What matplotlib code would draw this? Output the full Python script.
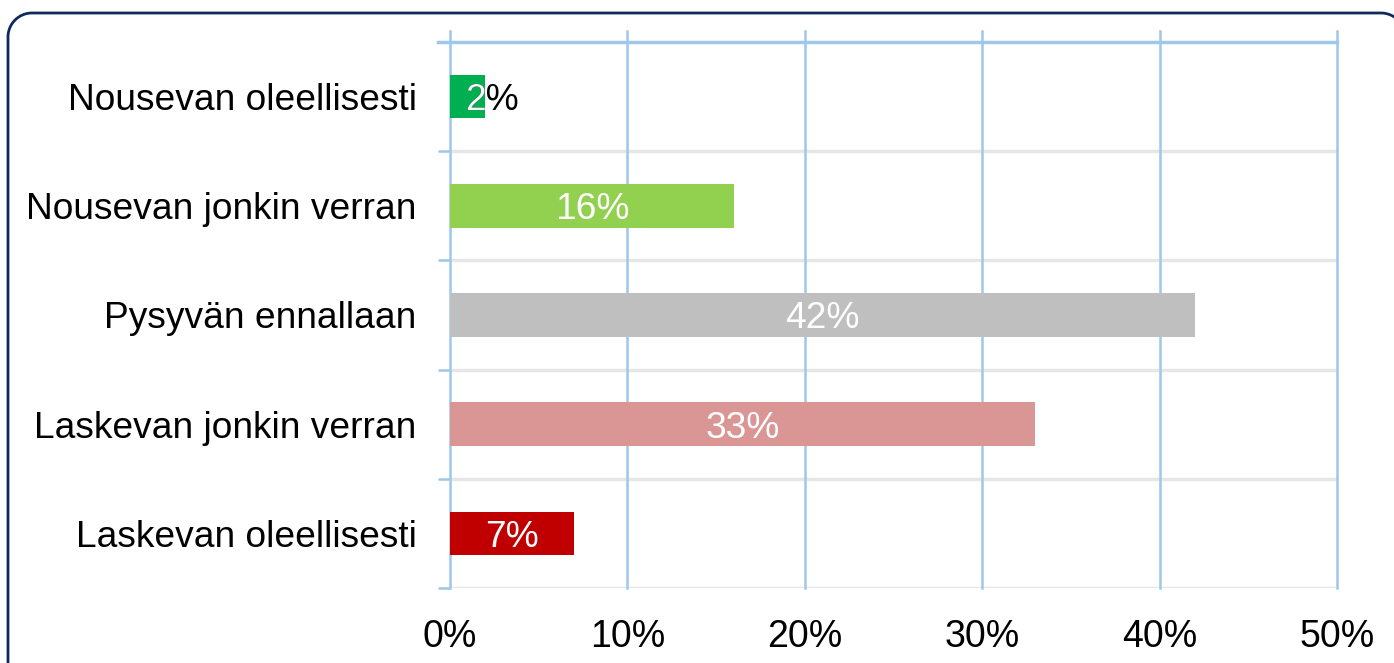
import numpy as np
import matplotlib.pyplot as plt
from matplotlib.lines import Line2D
from matplotlib.transforms import IdentityTransform

plt.rcParams['font.family'] = ['Liberation Sans', 'DejaVu Sans']

# data
categories = ['Nousevan oleellisesti', 'Nousevan jonkin verran', 'Pysyvän ennallaan',
              'Laskevan jonkin verran', 'Laskevan oleellisesti']
values = [2, 16, 42, 33, 7]
colors = ['#00B050', '#92D050', '#BFBFBF', '#D99694', '#C00000']
xticks = [0, 10, 20, 30, 40, 50]

blue = '#9DC8EB'
gray = '#E6E6E6'

fig = plt.figure(figsize=(13.94, 6.63), dpi=100)
ax = fig.add_axes([0.3228, 0.1131, 0.9591 - 0.3228, 0.9367 - 0.1131])

# rounded frame round the whole chart, drawn in pixel coords
r = 24
left, right, top = 8, 1405, 650
a1 = np.linspace(np.pi, np.pi / 2, 24)
a2 = np.linspace(np.pi / 2, 0, 24)
fx = np.concatenate([[left], left + r + r * np.cos(a1), right - r + r * np.cos(a2), [right]])
fy = np.concatenate([[-10], top - r + r * np.sin(a1), top - r + r * np.sin(a2), [-10]])
fig.lines.append(Line2D(fx, fy, transform=IdentityTransform(), color='#0E2A5E', lw=2))

n = len(categories)
ypos = list(range(n - 1, -1, -1))
ax.set_xlim(0, 50)
ax.set_ylim(-0.5, n - 0.5)

# grid
for b in range(n):
    ax.axhline(b - 0.5, color=gray, lw=2.5, zorder=1)
ax.axhline(n - 0.5, color=blue, lw=2.5, zorder=1, xmin=-12 / 887, clip_on=False)
for x in xticks:
    ax.plot([x, x], [-0.5, n - 0.4], color=blue, lw=1.8, zorder=1.5, clip_on=False)

bars = ax.barh(ypos, values, height=0.4, color=colors, zorder=2)

fs = 26.7
for bar, v, y in zip(bars, values, ypos):
    lab = f'{v}%'
    ty = y - 0.035
    if v < 5:
        # label doesn't fit: black text, white where it sits on the bar
        ax.text(0.85, ty, lab, ha='left', va='center', fontsize=fs, color='black', zorder=3)
        t2 = ax.text(0.85, ty, lab, ha='left', va='center', fontsize=fs, color='white',
                     zorder=4, clip_on=True)
        t2.set_clip_path(bar)
    else:
        ax.text(v / 2, ty, lab, ha='center', va='center', fontsize=fs, color='white', zorder=3)

ax.set_yticks(ypos)
ax.set_yticklabels(categories, fontsize=fs)
ax.set_yticks([b - 0.5 for b in range(n + 1)], minor=True)
ax.tick_params(axis='y', which='major', length=0, pad=24)
ax.tick_params(axis='y', which='minor', length=9, width=1.8, color=blue)

ax.set_xticks(xticks)
ax.set_xticklabels([f'{x}%' for x in xticks], fontsize=27)
ax.tick_params(axis='x', length=0, pad=22)

for s in ax.spines.values():
    s.set_visible(False)

fig.savefig('out.png', dpi=100)
